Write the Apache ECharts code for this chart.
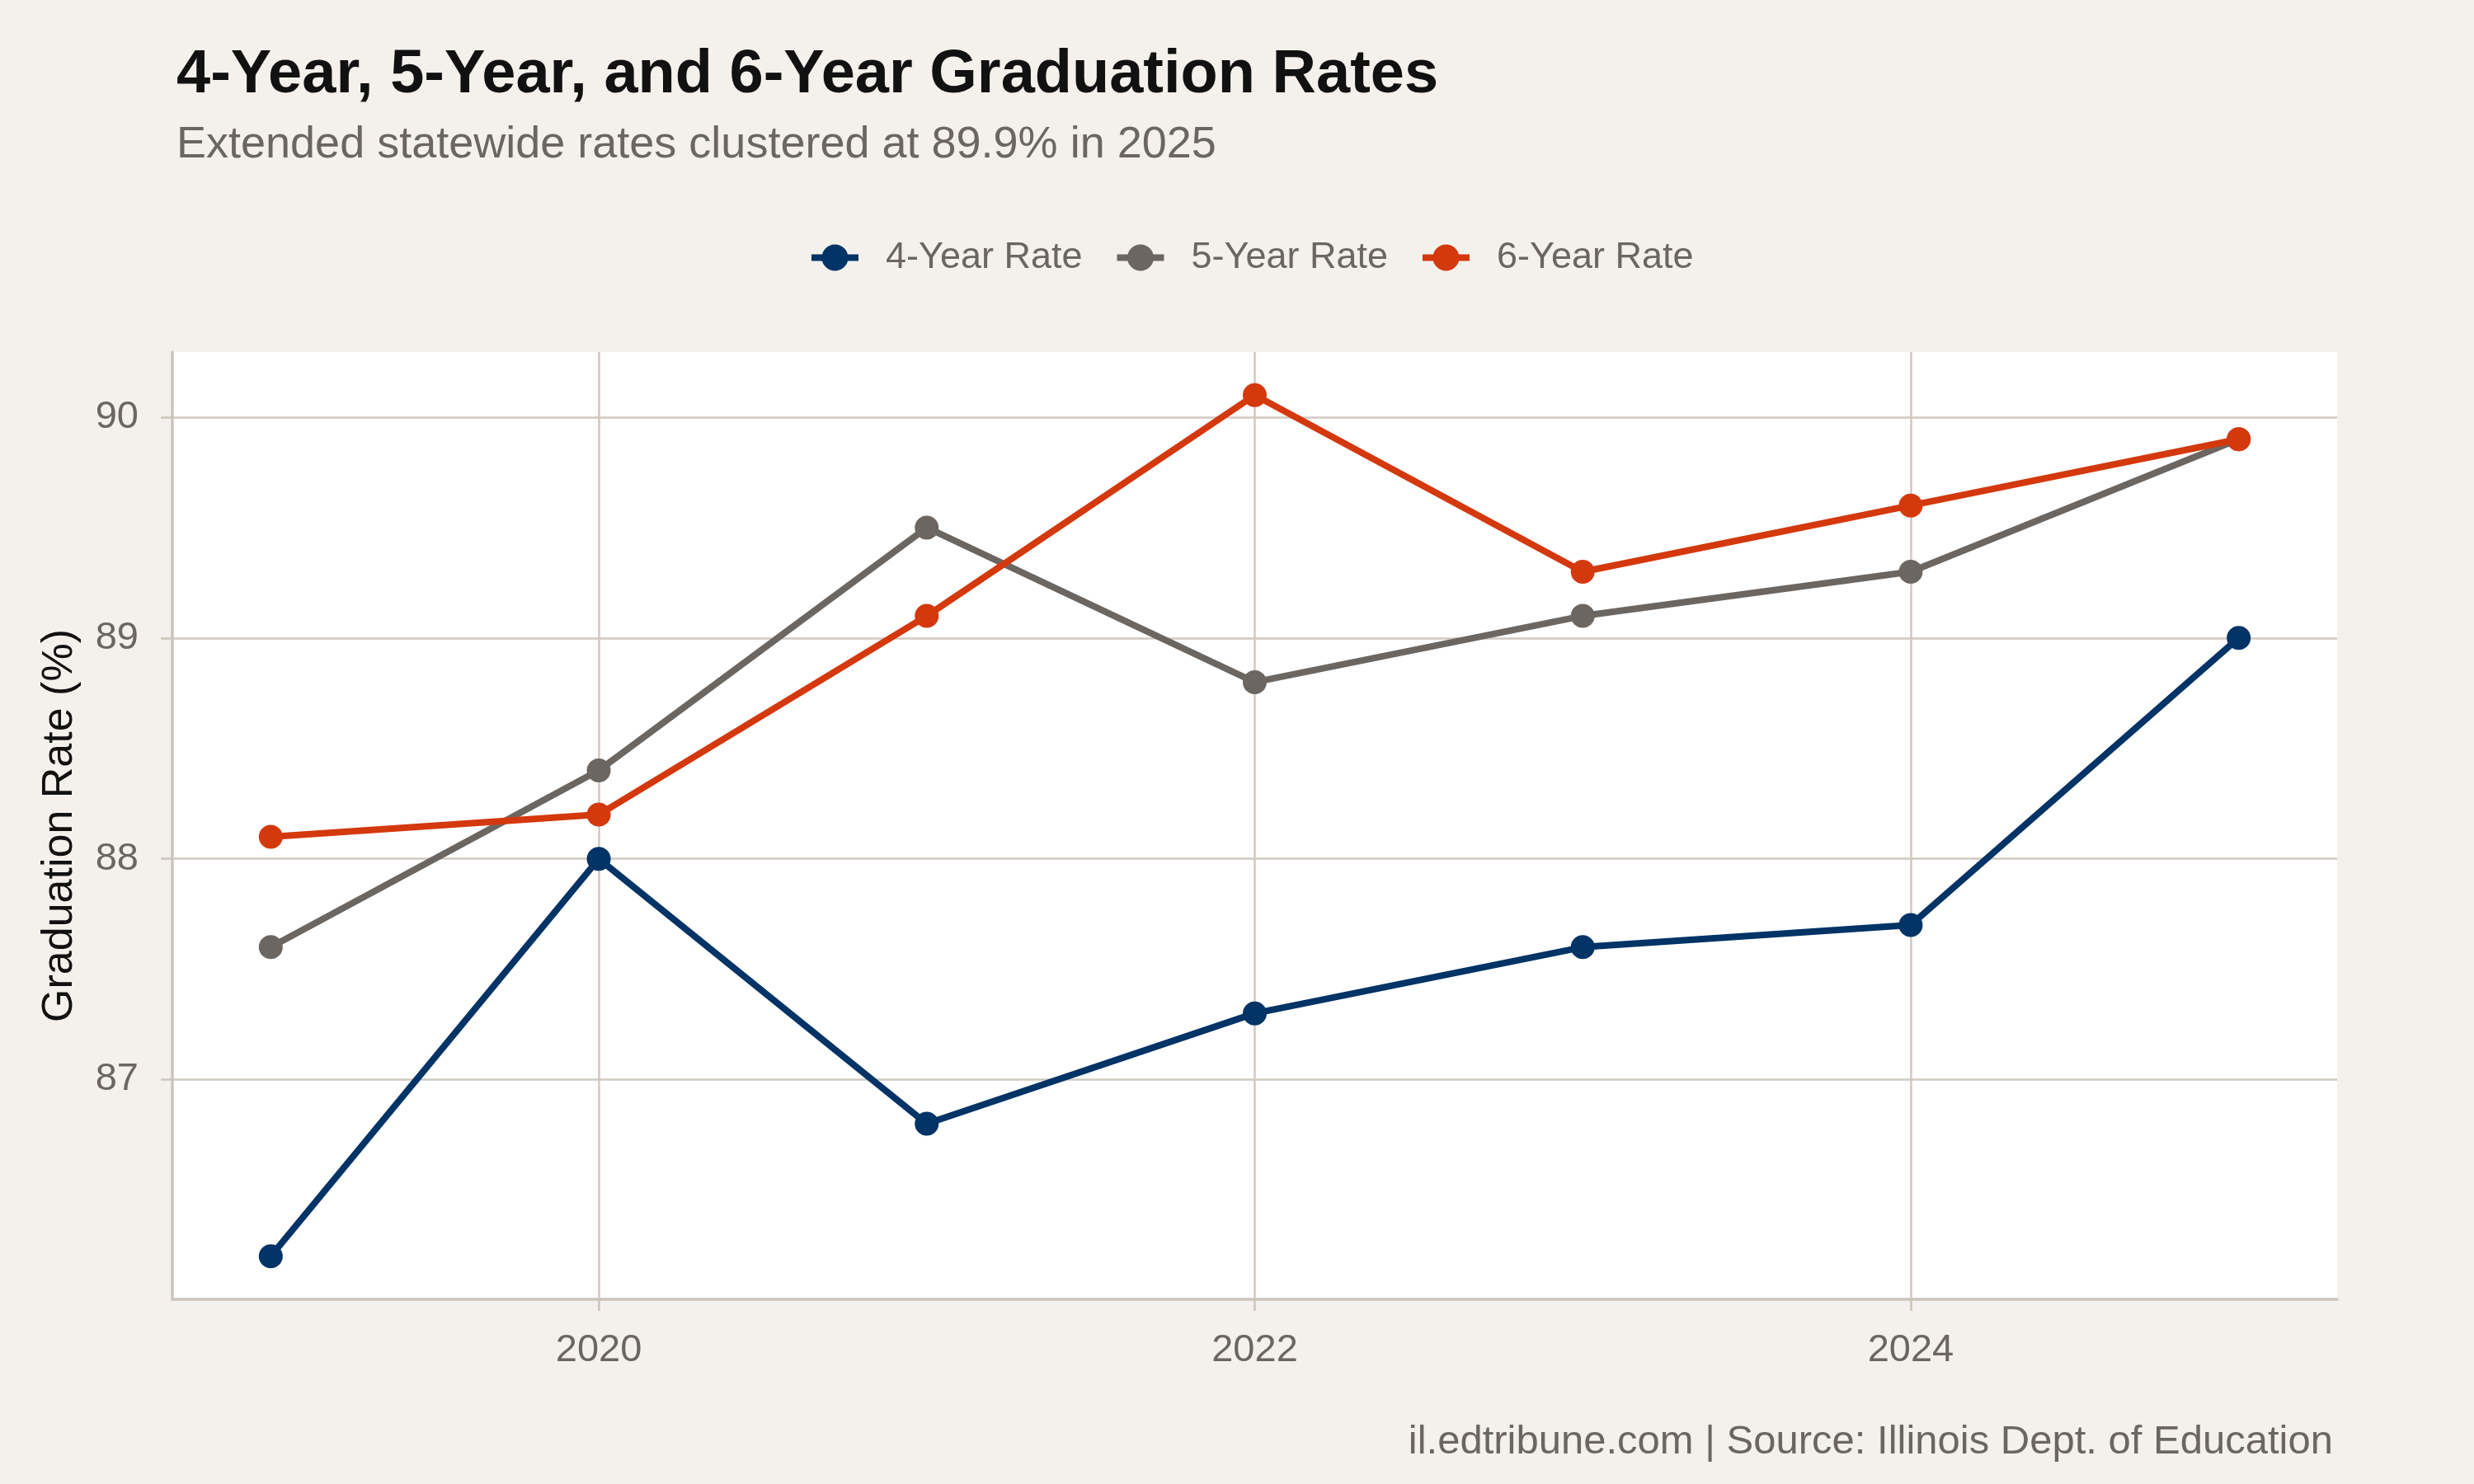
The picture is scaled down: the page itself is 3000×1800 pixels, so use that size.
<!DOCTYPE html>
<html>
<head>
<meta charset="utf-8">
<script src="https://cdn.jsdelivr.net/npm/echarts@6/dist/echarts.min.js"></script>
<style>
html,body{margin:0;padding:0;background:#f4f1ec;}
#chart{width:3000px;height:1800px;}
</style>
</head>
<body>
<div id="chart"></div>
<script>
const years = [2019, 2020, 2021, 2022, 2023, 2024, 2025];
const rate4 = [86.2, 88.0, 86.8, 87.3, 87.6, 87.7, 89.0];
const rate5 = [87.6, 88.4, 89.5, 88.8, 89.1, 89.3, 89.9];
const rate6 = [88.1, 88.2, 89.1, 90.1, 89.3, 89.6, 89.9];
const seriesNames = ['4-Year Rate', '5-Year Rate', '6-Year Rate'];
const xTicks = [2020, 2022, 2024];
const yTicks = [87, 88, 89, 90];

const colors = ['#003366', '#6b6661', '#d4380d'];
const FONT = 'Liberation Sans';
const gridColor = '#d0c9c0';
const labelColor = '#6b6660';

function pairs(vals) { return years.map((y, i) => [y, vals[i]]); }
const allVals = rate4.concat(rate5, rate6);
const vMin = Math.min(...allVals), vMax = Math.max(...allVals);
const vPad = (vMax - vMin) * 0.05;
const xPad = (years[years.length - 1] - years[0]) * 0.05;

const chart = echarts.init(document.getElementById('chart'), null, {renderer: 'canvas'});
chart.setOption({
  backgroundColor: '#f4f1ec',
  animation: false,
  textStyle: {fontFamily: FONT},
  title: [
    {text: '4-Year, 5-Year, and 6-Year Graduation Rates', left: 209, top: 50,
     textStyle: {fontFamily: FONT, fontSize: 74, fontWeight: 'bold', color: '#111111', lineHeight: 74}},
    {text: 'Extended statewide rates clustered at 89.9% in 2025', left: 209, top: 144,
     textStyle: {fontFamily: FONT, fontSize: 54, fontWeight: 'normal', color: labelColor, lineHeight: 54}},
    {text: 'il.edtribune.com | Source: Illinois Dept. of Education', right: 166, top: 1720,
     textStyle: {fontFamily: FONT, fontSize: 49, fontWeight: 'normal', color: labelColor, lineHeight: 49}}
  ],
  legend: {
    data: seriesNames,
    left: 975, top: 285,
    itemWidth: 57, itemHeight: 40, itemGap: 38,
    lineStyle: {width: 8},
    textStyle: {fontFamily: FONT, fontSize: 45, color: labelColor, padding: [0, 0, 0, 28]}
  },
  grid: {
    left: 209, right: 166, top: 427, bottom: 224,
    show: true, backgroundColor: '#ffffff', borderWidth: 0
  },
  xAxis: {
    type: 'value',
    min: years[0] - xPad, max: years[years.length - 1] + xPad,
    axisLine: {show: true, lineStyle: {color: '#cbc4bb', width: 3.5}},
    axisTick: {show: true, customValues: xTicks, length: 14, lineStyle: {color: '#cbc4bb', width: 2.5}},
    axisLabel: {customValues: xTicks, fontFamily: FONT, fontSize: 47, color: labelColor, margin: 39,
                formatter: v => String(v)},
    splitLine: {show: true, lineStyle: {color: gridColor, width: 2.5}}
  },
  yAxis: {
    type: 'value',
    min: vMin - vPad, max: vMax + vPad,
    name: 'Graduation Rate (%)', nameLocation: 'middle', nameRotate: 90, nameGap: 110,
    nameTextStyle: {fontFamily: FONT, fontSize: 52, color: '#111111'},
    axisLine: {show: true, lineStyle: {color: '#cbc4bb', width: 3.5}},
    axisTick: {show: true, customValues: yTicks, length: 14, lineStyle: {color: '#cbc4bb', width: 2.5}},
    axisLabel: {customValues: yTicks, fontFamily: FONT, fontSize: 47, color: labelColor, margin: 41,
                formatter: v => String(v)},
    splitLine: {show: true, lineStyle: {color: gridColor, width: 2.5}}
  },
  series: [rate4, rate5, rate6].map((vals, i) => ({
    name: seriesNames[i],
    type: 'line',
    data: pairs(vals),
    color: colors[i],
    symbol: 'circle',
    symbolSize: 29,
    showSymbol: true,
    lineStyle: {width: 8, color: colors[i]},
    itemStyle: {color: colors[i]},
    z: 2 + i
  }))
});
</script>
</body>
</html>
